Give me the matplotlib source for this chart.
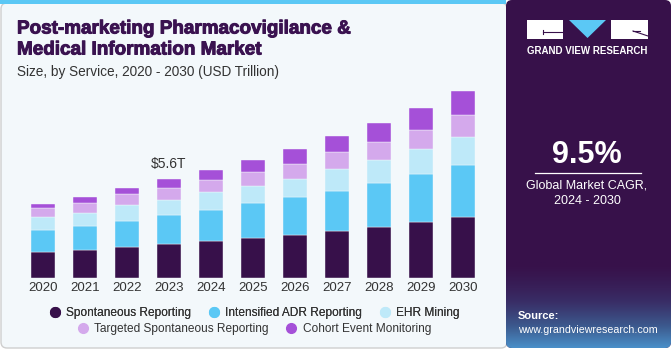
import matplotlib.pyplot as plt
import numpy as np
from matplotlib.patches import FancyBboxPatch, Rectangle, Polygon
from matplotlib.colors import LinearSegmentedColormap
from matplotlib.lines import Line2D
import matplotlib.patheffects as pe

plt.rcParams['font.family'] = ['Liberation Sans', 'DejaVu Sans']

# data (USD trillion)
years = ['2020', '2021', '2022', '2023', '2024', '2025', '2026', '2027', '2028', '2029', '2030']
spontaneous = [1.47, 1.58, 1.75, 1.94, 2.12, 2.27, 2.44, 2.69, 2.91, 3.18, 3.48]
intensified = [1.28, 1.39, 1.50, 1.65, 1.75, 1.95, 2.12, 2.25, 2.46, 2.71, 2.91]
ehr_mining = [0.73, 0.71, 0.86, 0.85, 0.98, 0.96, 1.03, 1.20, 1.28, 1.41, 1.60]
targeted = [0.51, 0.56, 0.62, 0.68, 0.70, 0.81, 0.88, 0.96, 1.05, 1.09, 1.20]
cohort = [0.19, 0.32, 0.34, 0.49, 0.58, 0.70, 0.81, 0.90, 1.05, 1.24, 1.35]

series_names = ['Spontaneous Reporting', 'Intensified ADR Reporting', 'EHR Mining',
                'Targeted Spontaneous Reporting', 'Cohort Event Monitoring']
series = [spontaneous, intensified, ehr_mining, targeted, cohort]
colors = ['#37104A', '#5BC8F5', '#BEE9F9', '#D4A9EC', '#A550D8']

W, H = 671, 350
fig = plt.figure(figsize=(W / 100, H / 100), dpi=100)
fig.patch.set_facecolor('white')

# background / decoration layer in pixel coords
bg = fig.add_axes([0, 0, 1, 1])
bg.set_xlim(0, W)
bg.set_ylim(H, 0)
bg.axis('off')

card = FancyBboxPatch((1, 3), 506, 345, boxstyle='round,pad=0,rounding_size=6',
                      fc='#F3F8FB', ec='#CFCFCF', lw=1)
bg.add_patch(card)
bg.add_patch(Rectangle((0, 0), 506, 4, color='#5BC8F5', lw=0))

panel = FancyBboxPatch((506, 0), 165, 348, boxstyle='round,pad=0,rounding_size=6',
                       fc='#37114A', ec='none')
bg.add_patch(panel)
grad_cmap = LinearSegmentedColormap.from_list(
    'g', ['#37114A', '#392D66', '#3C5A8E', '#4A8FC8'])
grad = np.linspace(0, 1, 100) ** 1.4
im = bg.imshow(grad[:, None], cmap=grad_cmap, aspect='auto',
               extent=(506, 671, 348, 262), zorder=2)
im.set_clip_path(panel)

# logo
bg.add_patch(Rectangle((527, 20), 36, 19, color='white', lw=0, zorder=3))
bg.plot([543, 563], [32, 32], color='#37114A', lw=0.8, zorder=4)
bg.plot([543, 543], [30, 34], color='#37114A', lw=0.8, zorder=4)
bg.add_patch(Polygon([(569, 20), (606, 20), (587.5, 38)], color='#5BC8F5', lw=0, zorder=3))
bg.add_patch(Rectangle((611, 20), 37, 19, color='white', lw=0, zorder=3))
bg.plot([633, 648], [31, 36], color='#37114A', lw=0.8, zorder=4)
bg.plot([633, 640], [31, 31], color='#37114A', lw=0.8, zorder=4)
bg.text(587.5, 51, 'GRAND VIEW RESEARCH', color='white', fontsize=7, fontweight='bold',
        ha='center', va='center', zorder=3)

bg.text(587, 155, '9.5%', color='white', fontsize=22, fontweight='bold',
        ha='center', va='center', zorder=3)
bg.plot([535, 641], [173, 173], color='white', lw=0.9, zorder=3)
bg.text(587, 186, 'Global Market CAGR,', color='white', fontsize=9,
        ha='center', va='center', zorder=3)
bg.text(587, 201, '2024 - 2030', color='white', fontsize=9,
        ha='center', va='center', zorder=3)
bg.text(518, 316, 'Source:', color='white', fontsize=8, fontweight='bold',
        ha='left', va='center', zorder=3)
bg.text(518, 330, 'www.grandviewresearch.com', color='white', fontsize=7.7,
        ha='left', va='center', zorder=3)

# titles
heavy = [pe.withStroke(linewidth=0.7, foreground='#3A1250')]
bg.text(17, 29, 'Post-marketing Pharmacovigilance &', color='#3A1250', fontsize=13.6,
        fontweight='bold', ha='left', va='center', path_effects=heavy)
bg.text(17, 50, 'Medical Information Market', color='#3A1250', fontsize=13.6,
        fontweight='bold', ha='left', va='center', path_effects=heavy)
bg.text(17, 72, 'Size, by Service, 2020 - 2030 (USD Trillion)', color='#333333',
        fontsize=9.8, ha='left', va='center')

# chart
top_px, base_px = 85, 278.3
ax = fig.add_axes([22 / W, 1 - base_px / H, 462 / W, (base_px - top_px) / H])
ax.patch.set_alpha(0)
x = np.arange(len(years))
bottom = np.zeros(len(years))
for vals, c in zip(series, colors):
    ax.bar(x, vals, width=0.57, bottom=bottom, color=c, edgecolor='#F3F8FB', linewidth=0.3)
    bottom += np.array(vals)

ax.text(3, bottom[3] + 0.45, '$5.6T', ha='center', va='bottom', fontsize=10, color='#333333')
ax.set_xlim(-0.5, len(years) - 0.5)
ax.set_ylim(0, (base_px - top_px) / (99.3 / 5.6))
ax.set_xticks(x)
ax.set_xticklabels(years, fontsize=9.5, color='#333333')
ax.tick_params(axis='x', length=0, pad=3)
ax.set_yticks([])
for s in ax.spines.values():
    s.set_visible(False)

handles = [Line2D([], [], marker='o', ls='', markersize=7, color=c) for c in colors]
leg_kw = dict(loc='center', frameon=False, fontsize=8.6, handletextpad=0.45,
              columnspacing=1.4, handlelength=1.0, labelcolor='#333333')
leg1 = fig.legend(handles[:3], series_names[:3], ncol=3,
                  bbox_to_anchor=(254 / W, 1 - 313 / H), **leg_kw)
fig.legend(handles[3:], series_names[3:], ncol=2,
           bbox_to_anchor=(254 / W, 1 - 329 / H), **leg_kw)
fig.add_artist(leg1)

fig.savefig('out.png', dpi=100)
